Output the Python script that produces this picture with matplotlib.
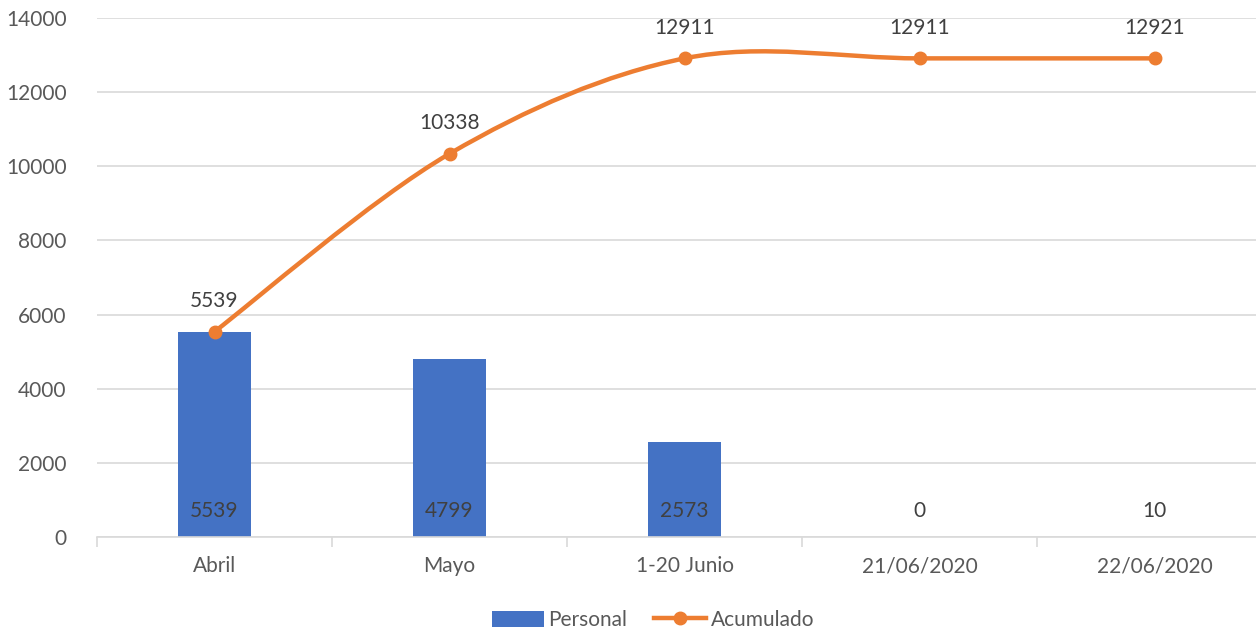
import numpy as np
import matplotlib
matplotlib.use("Agg")
import matplotlib.pyplot as plt
from matplotlib.path import Path
from matplotlib.patches import PathPatch, Patch
from matplotlib.lines import Line2D

categories = ["Abril", "Mayo", "1-20 Junio", "21/06/2020", "22/06/2020"]
personal = [5539, 4799, 2573, 0, 10]
acumulado = [5539, 10338, 12911, 12911, 12911]
acumulado_labels = ["5539", "10338", "12911", "12911", "12921"]
y_ticks = [0, 2000, 4000, 6000, 8000, 10000, 12000, 14000]

plt.rcParams['font.family'] = ['Lato', 'DejaVu Sans']
BLUE = "#4472C4"
ORANGE = "#ED7D31"
TXT = "#595959"
LBL = "#404040"
FS = 15

W, H = 1256, 632
fig = plt.figure(figsize=(W / 100, H / 100), dpi=100)
left, right, bottom, top = 97, 1272, 537, 18
ax = fig.add_axes([left / W, 1 - bottom / H, (right - left) / W, (bottom - top) / H])
ax.set_xlim(-0.5, len(categories) - 0.5)
ax.set_ylim(0, 14000)

x = np.arange(len(categories))
ax.bar(x, personal, width=0.31, color=BLUE, zorder=2)

# smoothed line (Catmull-Rom via cubic Bezier)
pts = np.column_stack([x, acumulado]).astype(float)
verts = [pts[0]]
codes = [Path.MOVETO]
n = len(pts)
for i in range(n - 1):
    p0 = pts[i - 1] if i > 0 else pts[i]
    p1 = pts[i]
    p2 = pts[i + 1]
    p3 = pts[i + 2] if i + 2 < n else pts[i + 1]
    c1 = p1 + (p2 - p0) / 6
    c2 = p2 - (p3 - p1) / 6
    verts += [c1, c2, p2]
    codes += [Path.CURVE4] * 3
ax.add_patch(PathPatch(Path(verts, codes), fill=False, edgecolor=ORANGE, lw=3.2,
                       capstyle='round', zorder=3))
ax.plot(x, acumulado, 'o', color=ORANGE, ms=9, zorder=4)

for xi, v, lab in zip(x, acumulado, acumulado_labels):
    ax.annotate(lab, (xi, v), xytext=(0, 15), textcoords='offset points',
                ha='center', va='bottom', fontsize=FS, color=LBL)
for xi, v in zip(x, personal):
    ax.annotate(str(v), (xi, 0), xytext=(0, 19), textcoords='offset points',
                ha='center', va='center', fontsize=FS, color=LBL, zorder=5)

ax.set_yticks(y_ticks)
ax.set_yticklabels([str(t) for t in y_ticks], fontsize=FS, color=TXT)
ax.grid(axis='y', color="#D9D9D9", lw=1.2, zorder=0)
ax.set_axisbelow(True)
ax.tick_params(axis='y', length=0, pad=22)
ax.set_xticks(x)
ax.set_xticklabels(categories, fontsize=FS, color=TXT)
ax.tick_params(axis='x', length=0, pad=14)
ax.set_xticks(np.arange(-0.5, len(categories), 1), minor=True)
ax.tick_params(axis='x', which='minor', length=7, color="#D9D9D9", width=1.2)
for s in ['top', 'right', 'left']:
    ax.spines[s].set_visible(False)
ax.spines['bottom'].set_color("#D9D9D9")
ax.spines['bottom'].set_linewidth(1.2)

handles = [Patch(facecolor=BLUE, edgecolor='none'),
           Line2D([0], [0], color=ORANGE, lw=3.2, marker='o', ms=9)]
fig.legend(handles, ["Personal", "Acumulado"], loc='center', bbox_to_anchor=(653 / W, 1 - 620 / H),
           ncol=2, frameon=False, fontsize=FS, labelcolor=TXT, handlelength=2.5,
           handleheight=0.8, handletextpad=0.2, columnspacing=1.3)

fig.savefig("out.png", dpi=100)
